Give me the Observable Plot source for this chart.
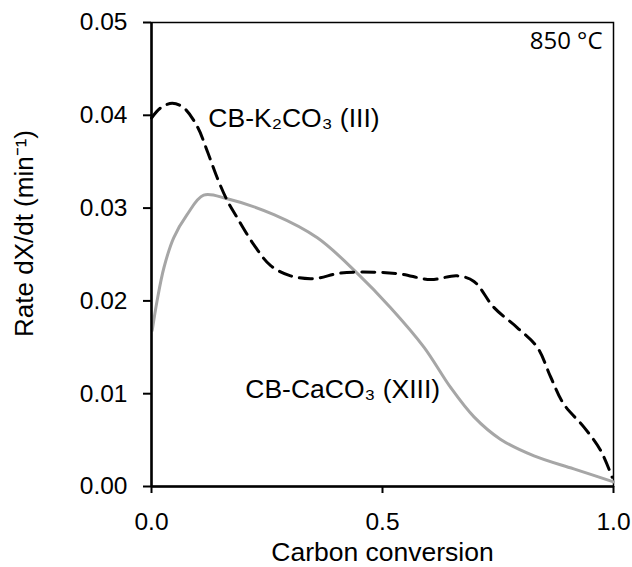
<!DOCTYPE html>
<html>
<head>
<meta charset="utf-8">
<script src="https://cdn.jsdelivr.net/npm/d3@7"></script>
<script src="https://cdn.jsdelivr.net/npm/@observablehq/plot@0.6"></script>
<style>
  html, body { margin: 0; padding: 0; background: #fff; }
</style>
</head>
<body>
<div id="chart"></div>
<script>
// CB-CaCO3 (XIII) — solid grey
const caX = [0.0015, 0.012, 0.027, 0.048, 0.077, 0.113, 0.164, 0.265, 0.359, 0.445, 0.517, 0.590, 0.647, 0.698, 0.755, 0.828, 0.914, 1.0];
const caY = [0.0168, 0.0200, 0.0236, 0.0268, 0.0293, 0.0314, 0.0310, 0.0293, 0.0268, 0.0230, 0.0193, 0.0150, 0.0107, 0.0075, 0.0051, 0.0033, 0.0019, 0.0005];
// CB-K2CO3 (III) — dashed black
const kX = [0, 0.02, 0.045, 0.07, 0.099, 0.121, 0.142, 0.164, 0.185, 0.221, 0.258, 0.301, 0.351, 0.409, 0.481, 0.539, 0.604, 0.662, 0.698, 0.741, 0.792, 0.835, 0.864, 0.892, 0.936, 0.972, 0.997];
const kY = [0.0397, 0.0408, 0.0413, 0.0408, 0.0388, 0.0361, 0.0333, 0.0308, 0.0290, 0.0261, 0.0238, 0.0227, 0.0224, 0.0230, 0.0231, 0.0229, 0.0223, 0.0227, 0.0221, 0.0193, 0.0171, 0.0150, 0.0118, 0.0089, 0.0064, 0.0039, 0.0010];

const xTicks = [0, 0.5, 1.0];
const yTicks = [0, 0.01, 0.02, 0.03, 0.04, 0.05];

const labelText = ["CB-K₂CO₃ (III)", "CB-CaCO₃ (XIII)"];
const labelX = [0.123, 0.203];
const labelY = [0.0397, 0.0104];

const tempText = ["850 °C"];
const xTitle = ["Carbon conversion"];
const yTitle = ["Rate dX/dt (min⁻¹)"];

const ca = caX.map((x, i) => ({x, y: caY[i]}));
const k = kX.map((x, i) => ({x, y: kY[i]}));
const labels = labelText.map((t, i) => ({t, x: labelX[i], y: labelY[i]}));

const chart = Plot.plot({
  width: 632,
  height: 567,
  marginLeft: 151,
  marginRight: 19,
  marginTop: 22,
  marginBottom: 81,
  style: {fontFamily: "'Liberation Sans', Arial, sans-serif", fontSize: "24px", color: "#000", background: "#fff"},
  x: {domain: [0, 1]},
  y: {domain: [0, 0.05]},
  marks: [
    Plot.frame({stroke: "#000", strokeWidth: 1.5}),
    Plot.axisX({ticks: xTicks, tickFormat: d3.format(".1f"), tickSize: 7, tickPadding: 19, strokeWidth: 2,
      label: null, fontSize: 24.5}),
    Plot.axisY({ticks: yTicks, tickFormat: d3.format(".2f"), tickSize: 8, tickPadding: 16, strokeWidth: 2,
      label: null, fontSize: 24.5}),
    Plot.text(xTitle, {frameAnchor: "bottom", lineAnchor: "middle", dy: 66, fontSize: 26.5, fill: "#000"}),
    Plot.text(yTitle, {frameAnchor: "left", textAnchor: "middle", lineAnchor: "middle", dx: -127, dy: -21, rotate: -90, fontSize: 26, fill: "#000"}),
    Plot.line(ca, {x: "x", y: "y", stroke: "#a6a6a6", strokeWidth: 3, curve: "catmull-rom"}),
    Plot.line(k, {x: "x", y: "y", stroke: "#000", strokeWidth: 3, strokeDasharray: "13,8", curve: "catmull-rom"}),
    Plot.ruleX([0], {stroke: "#000", strokeWidth: 2.5}),
    Plot.ruleY([0], {stroke: "#000", strokeWidth: 2.5}),
    Plot.text(labels, {x: "x", y: "y", text: "t", textAnchor: "start", fontSize: 26.5, fill: "#000"}),
    Plot.text(tempText, {frameAnchor: "top-right", dx: -11, dy: 9, fontSize: 24, fill: "#000", fontFamily: "'Open Sans', sans-serif"})
  ]
});
document.getElementById("chart").appendChild(chart);
</script>
</body>
</html>
